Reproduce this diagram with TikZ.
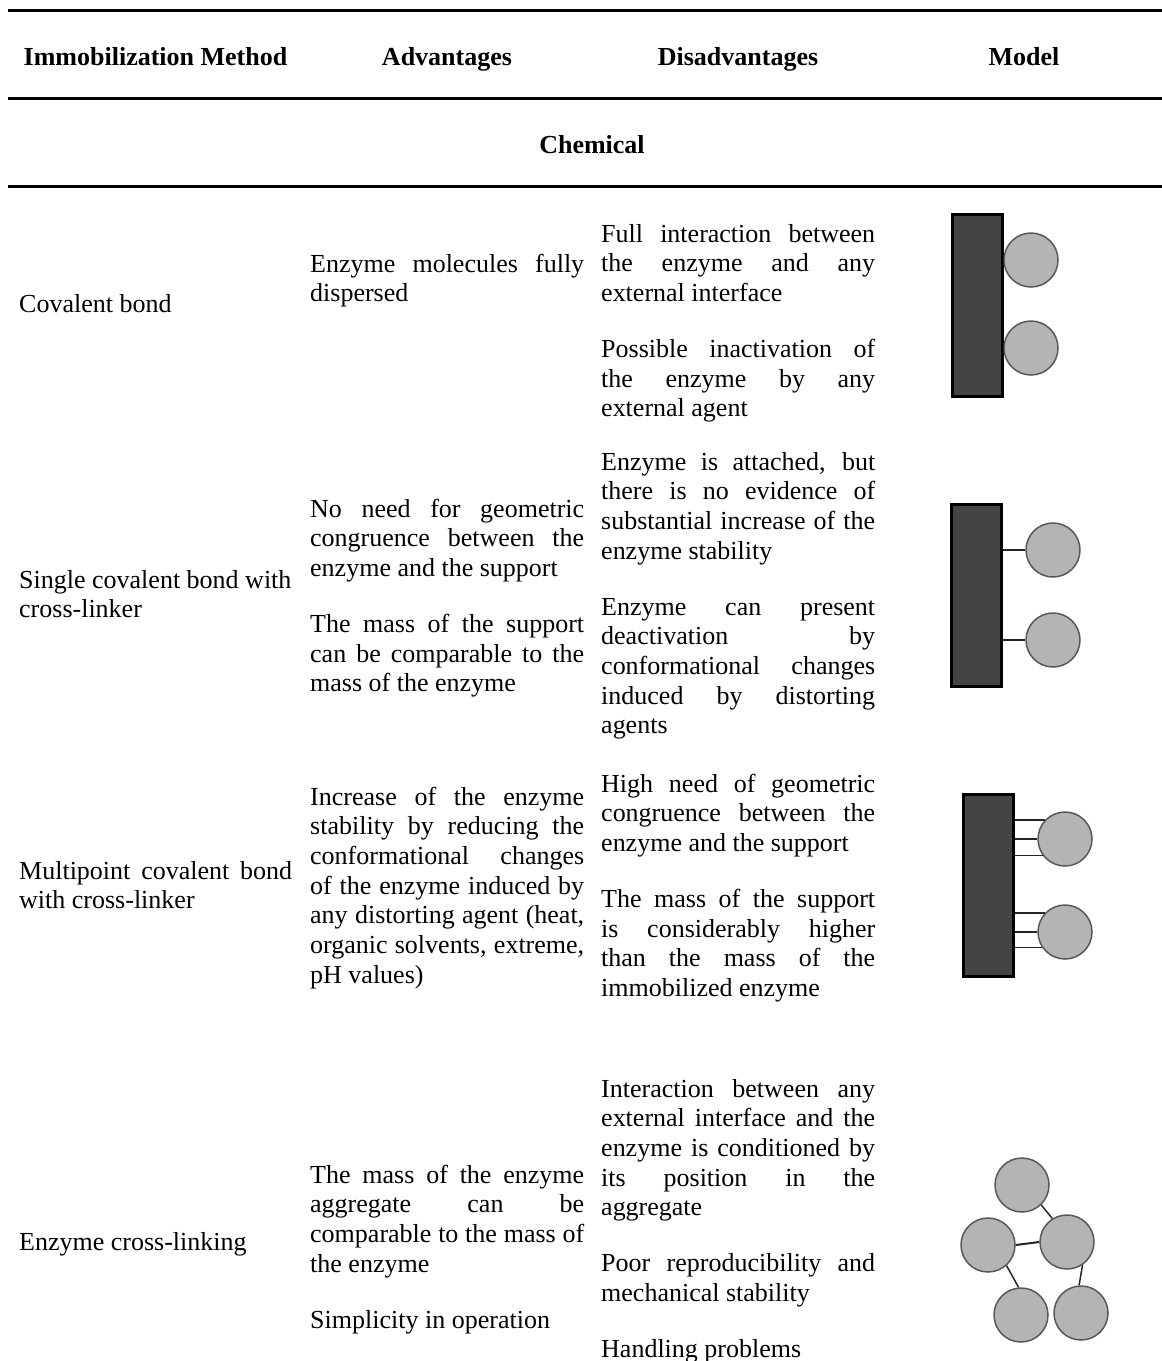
\documentclass[tikz,border=0pt]{standalone}
\usepackage{fontspec}
\setmainfont{Liberation Serif}
\newcommand\jline[1]{\makebox[\linewidth][s]{#1}}
\definecolor{enzfill}{HTML}{B4B4B4}
\definecolor{enzline}{HTML}{585858}
\definecolor{supfill}{HTML}{444444}
\tikzset{
  rule/.style={line width=3pt, draw=black},
  hdr/.style={anchor=base, inner sep=0pt, font=\fontsize{26}{29.7}\selectfont\bfseries},
  txt/.style={anchor=base west, inner sep=0pt},
  support/.style={rectangle, draw=black, fill=supfill, line width=3pt, minimum width=50pt, minimum height=182pt, inner sep=0pt},
  enz/.style={circle, draw=enzline, fill=enzfill, line width=1.5pt, minimum size=54pt, inner sep=0pt},
  conn/.style={line width=1.5pt, draw=black!85},
}
\begin{document}
\begin{tikzpicture}[x=1pt,y=-1pt,font=\fontsize{26}{29.7}\selectfont]
\useasboundingbox (0,0) rectangle (1162,1361);
% rules
\coordinate (l1a) at (8,10);  \coordinate (l1b) at (1162,10);
\coordinate (l2a) at (8,98);  \coordinate (l2b) at (1162,98);
\coordinate (l3a) at (8,186); \coordinate (l3b) at (1162,186);
\draw[rule] (l1a) -- (l1b);
\draw[rule] (l2a) -- (l2b);
\draw[rule] (l3a) -- (l3b);
% headers
\node[hdr] (h1) at (155.5,65) {Immobilization Method};
\node[hdr] (h2) at (447,65) {Advantages};
\node[hdr] (h3) at (738,65) {Disadvantages};
\node[hdr] (h4) at (1024,65) {Model};
\node[hdr] (hc) at (592,153) {Chemical};
% row 1
\node[txt] (m1) at (19,312) {Covalent bond};
\node[txt] (a1) at (310,272) {\parbox[t]{274pt}{\jline{Enzyme molecules fully}\\dispersed}};
\node[txt] (d1) at (601,242) {\parbox[t]{274pt}{\jline{Full interaction between}\\\jline{the enzyme and any}\\external interface\\[26.3pt]\jline{Possible inactivation of}\\\jline{the enzyme by any}\\external agent}};
% row 2
\node[txt] (m2) at (19,588) {\parbox[t]{276pt}{Single covalent bond with\\cross-linker}};
\node[txt] (a2) at (310,517) {\parbox[t]{274pt}{\jline{No need for geometric}\\\jline{congruence between the}\\enzyme and the support\\[26.3pt]\jline{The mass of the support}\\\jline{can be comparable to the}\\mass of the enzyme}};
\node[txt] (d2) at (601,470) {\parbox[t]{274pt}{\jline{Enzyme is attached, but}\\\jline{there is no evidence of}\\\jline{substantial increase of the}\\enzyme stability\\[26.3pt]\jline{Enzyme can present}\\\jline{deactivation by}\\\jline{conformational changes}\\\jline{induced by distorting}\\agents}};
% row 3
\node[txt] (m3) at (19,879) {\parbox[t]{273pt}{\jline{Multipoint covalent bond}\\with cross-linker}};
\node[txt] (a3) at (310,805) {\parbox[t]{274pt}{\jline{Increase of the enzyme}\\\jline{stability by reducing the}\\\jline{conformational changes}\\\jline{of the enzyme induced by}\\\jline{any distorting agent (heat,}\\\jline{organic solvents, extreme,}\\pH values)}};
\node[txt] (d3) at (601,792) {\parbox[t]{274pt}{\jline{High need of geometric}\\\jline{congruence between the}\\enzyme and the support\\[26.3pt]\jline{The mass of the support}\\\jline{is considerably higher}\\\jline{than the mass of the}\\immobilized enzyme}};
% row 4
\node[txt] (m4) at (19,1250) {Enzyme cross-linking};
\node[txt] (a4) at (310,1183) {\parbox[t]{274pt}{\jline{The mass of the enzyme}\\\jline{aggregate can be}\\\jline{comparable to the mass of}\\the enzyme\\[26.3pt]Simplicity in operation}};
\node[txt] (d4) at (601,1097) {\parbox[t]{274pt}{\jline{Interaction between any}\\\jline{external interface and the}\\\jline{enzyme is conditioned by}\\\jline{its position in the}\\aggregate\\[26.3pt]\jline{Poor reproducibility and}\\mechanical stability\\[26.3pt]Handling problems}};
% model 1
\node[support] (r1) at (977,305) {};
\node[enz] (c11) at (1031,260) {};
\node[enz] (c12) at (1031,348) {};
\draw[conn, line width=3pt] (r1.east |- c11.west) -- (c11.west);
\draw[conn, line width=3pt] (r1.east |- c12.west) -- (c12.west);
% model 2
\node[support] (r2) at (976.5,595.5) {};
\node[enz] (c21) at (1053,550) {};
\node[enz] (c22) at (1053,640) {};
\draw[conn] (r2.east |- c21.west) -- (c21.west);
\draw[conn] (r2.east |- c22.west) -- (c22.west);
% model 3
\node[support] (r3) at (988,885.5) {};
\node[enz] (c31) at (1065,839) {};
\node[enz] (c32) at (1065,932) {};
\draw[conn] (r3.east |- c31.137.3) -- (c31.137.3);
\draw[conn] (r3.east |- c31.west) -- (c31.west);
\draw[conn] (r3.east |- c31.217.4) -- (c31.217.4);
\draw[conn] (r3.east |- c32.137.3) -- (c32.137.3);
\draw[conn] (r3.east |- c32.west) -- (c32.west);
\draw[conn] (r3.east |- c32.214.8) -- (c32.214.8);
% model 4
\node[enz] (e1) at (1022,1185) {};
\node[enz] (e2) at (988,1245) {};
\node[enz] (e3) at (1067,1242) {};
\node[enz] (e4) at (1021,1315) {};
\node[enz] (e5) at (1081,1313) {};
\draw[conn] (e1.-46) -- (e3.122);
\draw[conn, line width=2pt] (e2.east) -- (e3.west);
\draw[conn] (e2.-48) -- (e4.95);
\draw[conn] (e3.-56) -- (e5.94);
\end{tikzpicture}
\end{document}
